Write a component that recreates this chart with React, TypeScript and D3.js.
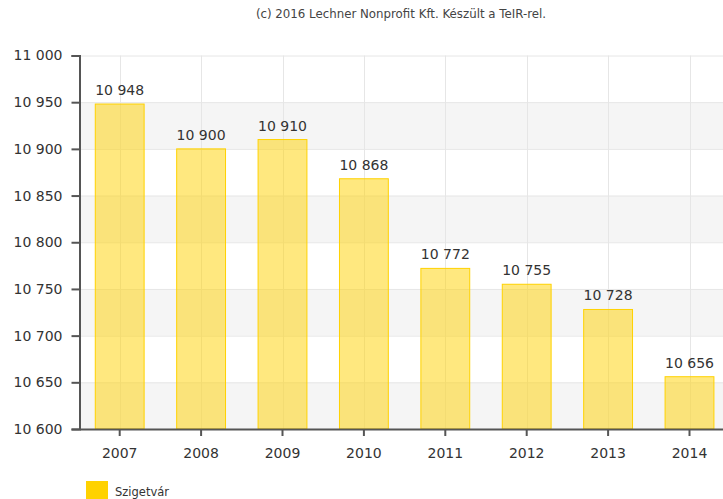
import React, { useEffect, useRef } from "react";
import * as d3 from "d3";

const years = ["2007", "2008", "2009", "2010", "2011", "2012", "2013", "2014"];
const values = [10948, 10900, 10910, 10868, 10772, 10755, 10728, 10656];
const yTicks = [10600, 10650, 10700, 10750, 10800, 10850, 10900, 10950, 11000];
const seriesName = "Szigetvár";
const credit = "(c) 2016 Lechner Nonprofit Kft. Készült a TeIR-rel.";

const fmt = (v: number) => d3.format(",")(v).replace(/,/g, " ");

const App = () => {
  const svgRef = useRef<SVGSVGElement | null>(null);
  const width = 723;
  const height = 499;

  useEffect(() => {
    const svg = d3.select(svgRef.current);
    svg.selectAll("*").remove();

    const margin = { top: 55.5, left: 79, bottom: 429 };
    const plotRight = 79 + 8 * 81.4;

    const x = d3.scaleBand().domain(years).range([margin.left, plotRight]).padding(0);
    const y = d3.scaleLinear().domain([10600, 11000]).range([margin.bottom, margin.top]);

    const font = "'DejaVu Sans', Verdana, sans-serif";

    // title
    svg.append("text")
      .attr("x", 401)
      .attr("y", 18)
      .attr("text-anchor", "middle")
      .attr("font-family", font)
      .attr("font-size", 11.8)
      .attr("fill", "#444")
      .text(credit);

    // alternating bands
    const bands = yTicks.slice(0, -1).filter((_, i) => i % 2 === 0);
    svg.append("g")
      .selectAll("rect")
      .data(bands)
      .join("rect")
      .attr("x", margin.left)
      .attr("width", plotRight - margin.left)
      .attr("y", (d) => y(d + 50))
      .attr("height", (d) => y(d) - y(d + 50))
      .attr("fill", "#f5f5f5");

    // horizontal grid
    svg.append("g")
      .selectAll("line")
      .data(yTicks)
      .join("line")
      .attr("x1", margin.left)
      .attr("x2", plotRight)
      .attr("y1", (d) => y(d) + 0.5)
      .attr("y2", (d) => y(d) + 0.5)
      .attr("stroke", "#e6e6e6");

    // vertical grid
    svg.append("g")
      .selectAll("line")
      .data(years)
      .join("line")
      .attr("x1", (d) => Math.round(x(d)! + x.bandwidth() / 2) + 0.5)
      .attr("x2", (d) => Math.round(x(d)! + x.bandwidth() / 2) + 0.5)
      .attr("y1", margin.top)
      .attr("y2", margin.bottom)
      .attr("stroke", "#e6e6e6");

    // bars
    const bw = x.bandwidth() * 0.6;
    svg.append("g")
      .selectAll("rect")
      .data(values)
      .join("rect")
      .attr("x", (_, i) => x(years[i])! + (x.bandwidth() - bw) / 2)
      .attr("width", bw)
      .attr("y", (d) => y(d))
      .attr("height", (d) => y(10600) - y(d))
      .attr("fill", "#ffd200")
      .attr("fill-opacity", 0.5)
      .attr("stroke", "#ffd200")
      .attr("stroke-width", 1);

    // value labels
    svg.append("g")
      .selectAll("text")
      .data(values)
      .join("text")
      .attr("x", (_, i) => x(years[i])! + x.bandwidth() / 2)
      .attr("y", (d) => y(d) - 9)
      .attr("text-anchor", "middle")
      .attr("font-family", font)
      .attr("font-size", 14)
      .attr("fill", "#333")
      .text((d) => fmt(d));

    // y axis
    const yAxis = svg.append("g")
      .attr("transform", `translate(${margin.left + 0.5},0)`)
      .call(d3.axisLeft(y).tickValues(yTicks).tickSize(8).tickPadding(9).tickFormat((d) => fmt(d as number)));
    yAxis.select(".domain").attr("stroke", "#555").attr("stroke-width", 2);
    yAxis.selectAll(".tick line").attr("stroke", "#555").attr("stroke-width", 2);
    yAxis.selectAll("text").attr("font-family", font).attr("font-size", 14).attr("fill", "#333");

    // x axis
    const xAxis = svg.append("g")
      .attr("transform", `translate(0,${margin.bottom})`)
      .call(d3.axisBottom(x).tickSize(7).tickSizeOuter(0).tickPadding(12));
    xAxis.select(".domain").attr("stroke", "#555").attr("stroke-width", 2);
    xAxis.selectAll(".tick line").attr("stroke", "#555").attr("stroke-width", 2);
    xAxis.selectAll("text").attr("font-family", font).attr("font-size", 14).attr("fill", "#333");

    // legend
    svg.append("rect")
      .attr("x", 86)
      .attr("y", 481)
      .attr("width", 22)
      .attr("height", 18)
      .attr("fill", "#ffd200");
    svg.append("text")
      .attr("x", 115)
      .attr("y", 496)
      .attr("font-family", font)
      .attr("font-size", 11.5)
      .attr("fill", "#333")
      .text(seriesName);
  }, []);

  return (
    <svg
      ref={svgRef}
      width={width}
      height={height}
      style={{ position: "absolute", left: 0, top: 0, background: "#fff" }}
    />
  );
};

export default App;
